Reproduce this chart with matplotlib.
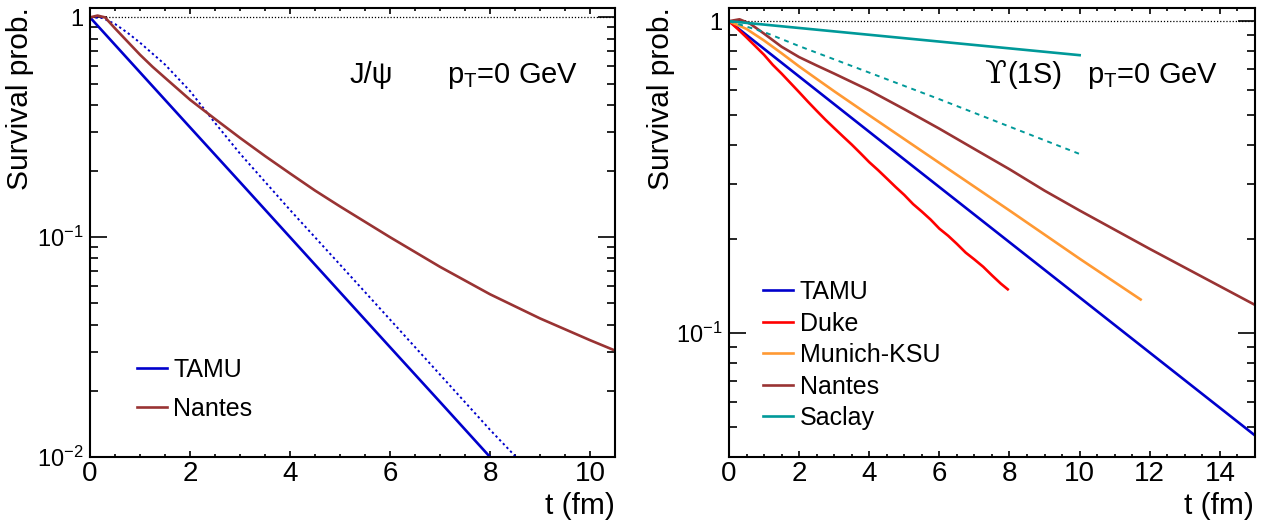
import math
import matplotlib
matplotlib.use("Agg")
import matplotlib.pyplot as plt
from matplotlib.ticker import MultipleLocator, LogLocator, FuncFormatter, NullFormatter

plt.rcParams['font.family'] = ['Liberation Sans', 'DejaVu Sans']
plt.rcParams['mathtext.fontset'] = 'custom'
plt.rcParams['mathtext.rm'] = 'Liberation Sans'
plt.rcParams['mathtext.it'] = 'Liberation Sans:italic'

# ---- J/psi panel ----
jpsi_tamu_t = [0, 1, 2, 3, 4, 5, 6, 7, 8]
jpsi_tamu_s = [1.0, 0.562, 0.316, 0.178, 0.100, 0.0562, 0.0316, 0.0178, 0.0100]
jpsi_tamu2_t = [0, 0.25, 0.5, 0.75, 1, 1.5, 2, 2.5, 3, 4, 5, 6, 7, 8, 8.52]
jpsi_tamu2_s = [1.0, 0.993, 0.933, 0.851, 0.767, 0.610, 0.462, 0.331, 0.240,
                0.133, 0.0750, 0.0422, 0.0237, 0.0133, 0.0100]
jpsi_nantes_t = [0, 0.15, 0.3, 0.5, 0.75, 1, 1.25, 1.5, 2, 2.5, 3, 3.5, 4, 4.5, 5,
                 6, 7, 8, 9, 10, 10.5]
jpsi_nantes_s = [1.0, 1.019, 1.0, 0.891, 0.776, 0.676, 0.596, 0.531, 0.422, 0.345, 0.283,
                 0.234, 0.195, 0.163, 0.138, 0.100, 0.0733, 0.0550, 0.0427, 0.0340, 0.0305]

# ---- Upsilon(1S) panel ----
ups_tamu_t = [0, 5, 10, 15]
ups_tamu_s = [1.0, 0.360, 0.130, 0.0469]
ups_duke_t = [0, 0.25, 0.5, 0.75, 1, 1.25, 1.5, 1.75, 2, 2.25, 2.5, 2.75, 3, 3.25, 3.5, 3.75,
              4, 4.25, 4.5, 4.75, 5, 5.25, 5.5, 5.75, 6, 6.25, 6.5, 6.75, 7, 7.25, 7.5, 7.75, 7.95]
ups_duke_s = [1.0, 0.944, 0.887, 0.832, 0.780, 0.724, 0.679, 0.634, 0.592, 0.552, 0.516, 0.483,
              0.454, 0.427, 0.402, 0.377, 0.353, 0.333, 0.313, 0.294, 0.277, 0.259, 0.245, 0.231,
              0.216, 0.205, 0.193, 0.181, 0.172, 0.163, 0.153, 0.144, 0.138]
ups_munich_t = [0, 0.5, 1, 1.5, 2, 2.5, 3, 4, 6, 8, 10, 11.74]
ups_munich_s = [1.0, 0.944, 0.867, 0.789, 0.716, 0.653, 0.596, 0.499, 0.351, 0.247, 0.173, 0.128]
ups_nantes_t = [0, 0.3, 0.6, 1.0, 1.5, 2.0, 2.5, 3, 4, 5, 6, 7, 8, 9, 10, 12, 15]
ups_nantes_s = [1.0, 1.014, 0.982, 0.912, 0.828, 0.767, 0.721, 0.679, 0.600, 0.522, 0.452,
                0.389, 0.335, 0.286, 0.247, 0.186, 0.123]
ups_saclay_t = [0, 5, 10]
ups_saclay_s = [1.0, 0.882, 0.778]
ups_saclay2_t = [0, 1, 2, 4, 6, 8, 10]
ups_saclay2_s = [1.0, 0.923, 0.832, 0.684, 0.562, 0.459, 0.375]

BLUE = '#0000cc'
RED = '#ff0000'
ORANGE = '#ff9933'
BROWN = '#993333'
TEAL = '#009999'
LW = 1.9


def ytick_fmt(v, pos):
    if abs(v - 1) < 1e-9:
        return '1'
    return r'$10^{%d}$' % round(math.log10(v))


def style_axes(ax, xmax, ymin, xmajor):
    ax.set_yscale('log')
    ax.set_xlim(0, xmax)
    ax.set_ylim(ymin, 1.1)
    for s in ax.spines.values():
        s.set_linewidth(1.5)
    ax.xaxis.set_major_locator(MultipleLocator(xmajor))
    ax.xaxis.set_minor_locator(MultipleLocator(0.5))
    ax.yaxis.set_major_locator(LogLocator(base=10, numticks=10))
    ax.yaxis.set_minor_locator(LogLocator(base=10, subs=range(2, 10), numticks=10))
    ax.yaxis.set_major_formatter(FuncFormatter(ytick_fmt))
    ax.yaxis.set_minor_formatter(NullFormatter())
    ax.tick_params(axis='both', which='both', direction='in', top=True, right=True, width=1.2)
    ax.tick_params(axis='x', which='major', length=4.5, pad=3, labelsize=20)
    ax.tick_params(axis='x', which='minor', length=2.3)
    ax.tick_params(axis='y', which='major', length=12, pad=5, labelsize=17)
    ax.tick_params(axis='y', which='minor', length=6)
    ax.axhline(1.0, color='black', lw=0.9, ls=(0, (1, 1.5)), zorder=1)


fig = plt.figure(figsize=(12.61, 5.24), dpi=100)
ax1 = fig.add_axes([0.0714, 0.1279, 0.4163, 0.8563])
ax2 = fig.add_axes([0.5781, 0.1279, 0.4171, 0.8563])

style_axes(ax1, 10.5, 0.01, 2)
ax1.plot(jpsi_tamu_t, jpsi_tamu_s, color=BLUE, lw=LW, label='TAMU')
ax1.plot(jpsi_tamu2_t, jpsi_tamu2_s, color=BLUE, lw=1.4, ls=(0, (1.2, 1.5)))
ax1.plot(jpsi_nantes_t, jpsi_nantes_s, color=BROWN, lw=LW, label='Nantes')
ax1.legend(loc='upper left', bbox_to_anchor=(0.0895, 0.221), frameon=False, fontsize=18,
           handlelength=1.2, handletextpad=0.25, labelspacing=0.61, borderpad=0, borderaxespad=0)
ax1.text(0.495, 0.833, 'J/ψ', transform=ax1.transAxes, fontsize=21, va='baseline')
ax1.text(0.680, 0.833, r'p$_{\mathrm{T}}$=0 GeV', transform=ax1.transAxes, fontsize=21, va='baseline')

style_axes(ax2, 15, 0.04, 2)
ax2.plot(ups_tamu_t, ups_tamu_s, color=BLUE, lw=LW, label='TAMU')
ax2.plot(ups_duke_t, ups_duke_s, color=RED, lw=LW, label='Duke')
ax2.plot(ups_munich_t, ups_munich_s, color=ORANGE, lw=LW, label='Munich-KSU')
ax2.plot(ups_nantes_t, ups_nantes_s, color=BROWN, lw=LW, label='Nantes')
ax2.plot(ups_saclay_t, ups_saclay_s, color=TEAL, lw=LW, label='Saclay')
ax2.plot(ups_saclay2_t, ups_saclay2_s, color=TEAL, lw=1.4, ls=(0, (2.5, 2.5)))
ax2.legend(loc='upper left', bbox_to_anchor=(0.0646, 0.394), frameon=False, fontsize=18,
           handlelength=1.2, handletextpad=0.28, labelspacing=0.30, borderpad=0, borderaxespad=0)
ax2.text(0.487, 0.833, 'ϒ', transform=ax2.transAxes, fontsize=23, va='baseline',
         family=['DejaVu Serif', 'Liberation Serif'])
ax2.text(0.530, 0.833, '(1S)', transform=ax2.transAxes, fontsize=21, va='baseline')
ax2.text(0.681, 0.833, r'p$_{\mathrm{T}}$=0 GeV', transform=ax2.transAxes, fontsize=21, va='baseline')

fig.text(20.5 / 1261, 1 - 7 / 524, 'Survival prob.', rotation=90, ha='center', va='top', fontsize=21.5)
fig.text(660.7 / 1261, 1 - 7 / 524, 'Survival prob.', rotation=90, ha='center', va='top', fontsize=21.5)
fig.text(615 / 1261, 1 - 514 / 524, 't (fm)', ha='right', va='baseline', fontsize=21.5)
fig.text(1254 / 1261, 1 - 514 / 524, 't (fm)', ha='right', va='baseline', fontsize=21.5)

fig.savefig('out.png', dpi=100)
